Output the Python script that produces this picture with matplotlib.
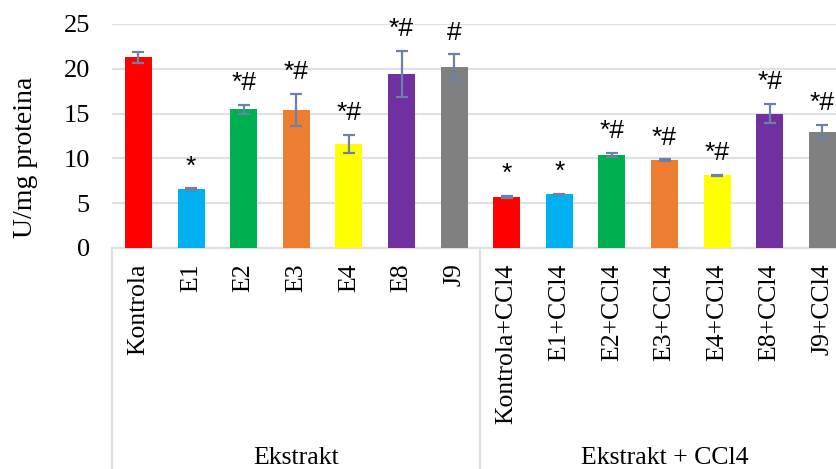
import matplotlib
matplotlib.use("Agg")
import matplotlib.pyplot as plt
import matplotlib.transforms as mtransforms

# --- data -----------------------------------------------------------------
categories = ["Kontrola", "E1", "E2", "E3", "E4", "E8", "J9",
              "Kontrola+CCl4", "E1+CCl4", "E2+CCl4", "E3+CCl4",
              "E4+CCl4", "E8+CCl4", "J9+CCl4"]
values = [21.3, 6.6, 15.5, 15.4, 11.6, 19.4, 20.2,
          5.7, 6.0, 10.4, 9.8, 8.1, 15.0, 13.0]
errors = [0.6, 0.08, 0.5, 1.8, 1.05, 2.6, 1.4,
          0.15, 0.05, 0.25, 0.08, 0.08, 1.05, 0.75]
significance = ["", "*", "*#", "*#", "*#", "*#", "#",
                "*", "*", "*#", "*#", "*#", "*#", "*#"]
groups = ["Ekstrakt", "Ekstrakt + CCl4"]
group_sizes = [7, 7]
yticks = [0, 5, 10, 15, 20, 25]

palette = ["#FF0000", "#00B0F0", "#00B050", "#ED7D31",
           "#FFFF00", "#7030A0", "#808080"]
bar_colors = palette * 2

W, H = 837, 469
fig = plt.figure(figsize=(W / 100, H / 100), dpi=100)

# axes extend slightly past the right edge of the canvas
left_px, right_px, top_px, bottom_px = 112.2, 848.6, 24, 248
ax = fig.add_axes([left_px / W, 1 - bottom_px / H,
                   (right_px - left_px) / W, (bottom_px - top_px) / H])

serif = "Liberation Serif"
sans = "Liberation Sans"
grid_color = "#DDE1E6"
err_color = "#6C81A4"

x = list(range(len(categories)))
ax.bar(x, values, width=0.51, color=bar_colors, zorder=3)
ax.errorbar(x, values, yerr=errors, fmt="none", ecolor=err_color,
            elinewidth=1.6, capsize=4.5, capthick=1.6, zorder=4)

# significance markers above each error bar
for xi, v, e, s in zip(x, values, errors, significance):
    if s:
        ax.annotate(s, (xi, v + e), xytext=(0, 7), textcoords="offset points",
                    ha="center", va="bottom", fontsize=19, family=sans,
                    color="black", zorder=5)

ax.set_xlim(-0.5, len(categories) - 0.5)
ax.set_ylim(0, 25)
ax.set_yticks(yticks)
ax.set_yticklabels([str(t) for t in yticks], family=serif, fontsize=19)
ax.tick_params(axis="y", length=0, pad=16)
ax.yaxis.grid(True, color=grid_color, linewidth=1.6, zorder=0)
ax.set_axisbelow(True)

ax.set_xticks(x)
ax.set_xticklabels(categories, rotation=90, family=serif, fontsize=18.5,
                   va="top", ha="center")
ax.tick_params(axis="x", length=0, pad=11)

for side in ["top", "right", "left"]:
    ax.spines[side].set_visible(False)
ax.spines["bottom"].set_color(grid_color)
ax.spines["bottom"].set_linewidth(1.6)

# group separators and group labels below the category axis
trans = mtransforms.blended_transform_factory(ax.transData, ax.transAxes)
axes_h = bottom_px - top_px
depth = -(H - bottom_px) / axes_h
bounds = [-0.5]
for n in group_sizes:
    bounds.append(bounds[-1] + n)
for b in bounds:
    ax.plot([b, b], [0, depth], transform=trans, color=grid_color,
            linewidth=1.6, clip_on=False, zorder=2)
for i, g in enumerate(groups):
    cx = (bounds[i] + bounds[i + 1]) / 2
    ax.text(cx, depth + 5 / axes_h, g, transform=trans, ha="center",
            va="baseline", family=serif, fontsize=18.5)

fig.text(26 / W, 1 - 157 / H, "U/mg proteina", rotation=90, ha="center",
         va="center", family=serif, fontsize=20)

fig.savefig("out.png", dpi=100)
